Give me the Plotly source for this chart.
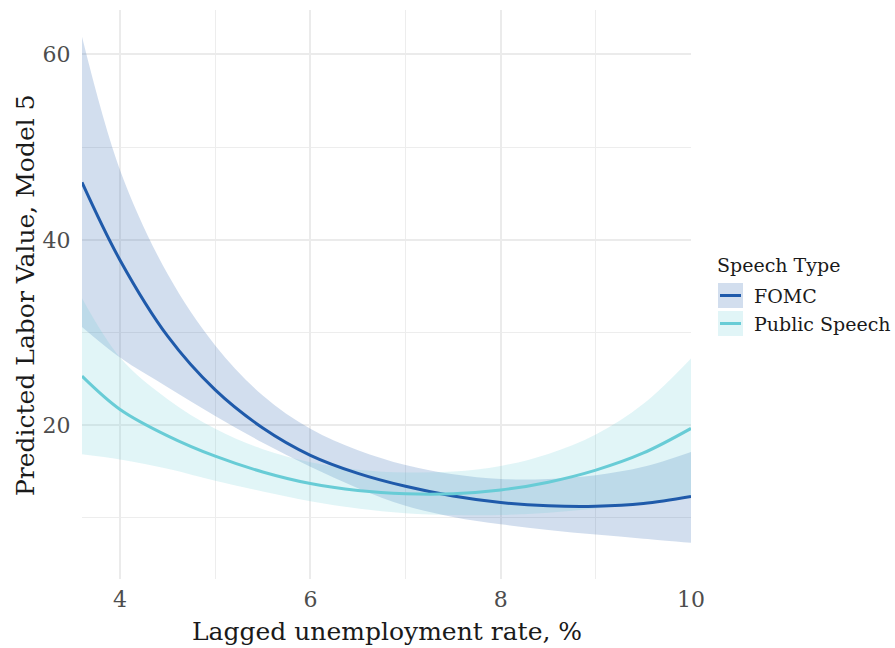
import plotly.graph_objects as go

# Lagged unemployment rate (%) at which predictions are evaluated
unemp = [3.6, 4.0, 4.5, 5.0, 5.5, 6.0, 6.5, 7.0, 7.5, 8.0, 8.5, 9.0, 9.5, 10.0]

# FOMC: predicted labor value with confidence band
fomc_fit = [46.2, 37.8, 29.6, 23.8, 19.7, 16.75, 14.8, 13.4, 12.35, 11.65, 11.3, 11.25, 11.55, 12.3]
fomc_upper = [61.9, 47.5, 36.3, 28.6, 23.2, 19.6, 17.3, 15.7, 14.7, 14.2, 14.2, 14.6, 15.5, 17.1]
fomc_lower = [30.6, 27.3, 24.1, 21.0, 18.1, 15.5, 13.2, 11.3, 10.1, 9.3, 8.7, 8.2, 7.75, 7.3]

# Public speeches: predicted labor value with confidence band
pub_fit = [25.3, 21.7, 18.85, 16.65, 14.95, 13.7, 12.95, 12.6, 12.6, 13.0, 13.85, 15.15, 17.0, 19.65]
pub_upper = [33.7, 27.3, 22.8, 19.6, 17.4, 16.0, 15.2, 14.9, 15.0, 15.6, 16.9, 19.0, 22.3, 27.2]
pub_lower = [16.85, 16.3, 15.3, 14.0, 12.85, 11.8, 11.0, 10.5, 10.3, 10.3, 10.55, 11.0, 11.6, 12.4]

series_names = ["FOMC", "Public Speech"]
line_colors = ["#1F5AAA", "#68CCD6"]
band_colors = ["rgba(31,90,170,0.2)", "rgba(104,204,214,0.2)"]

x_ticks = [4, 6, 8, 10]
y_ticks = [20, 40, 60]

FONT = "DejaVu Serif"
SPLINE = dict(shape="spline", smoothing=1.0)

fig = go.Figure()

bands = [(fomc_lower, fomc_upper), (pub_lower, pub_upper)]
for (lo, hi), fc in zip(bands, band_colors):
    fig.add_trace(go.Scatter(x=unemp, y=lo, mode="lines", line=dict(width=0, **SPLINE),
                             showlegend=False, hoverinfo="skip"))
    fig.add_trace(go.Scatter(x=unemp, y=hi, mode="lines", line=dict(width=0, **SPLINE),
                             fill="tonexty", fillcolor=fc, showlegend=False, hoverinfo="skip"))

for fit, lc, name in zip([fomc_fit, pub_fit], line_colors, series_names):
    fig.add_trace(go.Scatter(x=unemp, y=fit, mode="lines", name=name,
                             line=dict(color=lc, width=3, **SPLINE),
                             showlegend=False))

# plot area geometry in pixels
W, H = 895, 648
L, R, T, B = 82, 691, 10, 579


def px_x(p):
    return (p - L) / (R - L)


def px_y(p):
    return (B - p) / (B - T)


# hand-built legend in ggplot style: shaded key with line across
shapes = []
annotations = []
key_tops = [283, 311]
for top, fc, lc, name in zip(key_tops, band_colors, line_colors, series_names):
    shapes.append(dict(type="rect", xref="paper", yref="paper",
                       x0=px_x(718), x1=px_x(743), y0=px_y(top + 25), y1=px_y(top),
                       fillcolor=fc, line=dict(width=0)))
    shapes.append(dict(type="line", xref="paper", yref="paper",
                       x0=px_x(720), x1=px_x(741), y0=px_y(top + 12.5), y1=px_y(top + 12.5),
                       line=dict(color=lc, width=3)))
    annotations.append(dict(text=name, xref="paper", yref="paper", x=px_x(752), y=px_y(top + 12.5),
                            xanchor="left", yanchor="middle", showarrow=False,
                            font=dict(family=FONT, size=19, color="#1a1a1a")))

annotations.append(dict(text="Speech Type", xref="paper", yref="paper", x=px_x(715), y=px_y(265),
                        xanchor="left", yanchor="middle", showarrow=False,
                        font=dict(family=FONT, size=19, color="#1a1a1a")))

# axis titles
annotations.append(dict(text="Lagged unemployment rate, %", xref="paper", yref="paper",
                        x=px_x(387), y=px_y(632), xanchor="center", yanchor="middle", showarrow=False,
                        font=dict(family=FONT, size=25, color="#1a1a1a")))
annotations.append(dict(text="Predicted Labor Value, Model 5", xref="paper", yref="paper",
                        x=px_x(25), y=px_y(295), xanchor="center", yanchor="middle", showarrow=False,
                        textangle=-90, font=dict(family=FONT, size=25, color="#1a1a1a")))

fig.update_layout(
    width=W, height=H,
    margin=dict(l=L, r=W - R, t=T, b=H - B),
    paper_bgcolor="white", plot_bgcolor="white",
    showlegend=False,
    shapes=shapes, annotations=annotations,
    font=dict(family=FONT),
)

fig.update_xaxes(range=[3.6, 10], tickvals=x_ticks, ticktext=[str(v) for v in x_ticks],
                 showgrid=True, gridcolor="#ebebeb", gridwidth=1.5, zeroline=False, showline=False,
                 ticks="outside", ticklen=1, tickcolor="rgba(0,0,0,0)",
                 tickfont=dict(family=FONT, size=22, color="#4d4d4d"),
                 minor=dict(tickvals=[5, 7, 9], showgrid=True, gridcolor="#ededed", gridwidth=1.2))
fig.update_yaxes(range=[3.4, 64.8], tickvals=y_ticks, ticktext=[str(v) for v in y_ticks],
                 showgrid=True, gridcolor="#ebebeb", gridwidth=1.5, zeroline=False, showline=False,
                 ticks="outside", ticklen=6, tickcolor="rgba(0,0,0,0)",
                 tickfont=dict(family=FONT, size=22, color="#4d4d4d"),
                 minor=dict(tickvals=[10, 30, 50], showgrid=True, gridcolor="#ededed", gridwidth=1.2))

fig.write_html("out.html")
